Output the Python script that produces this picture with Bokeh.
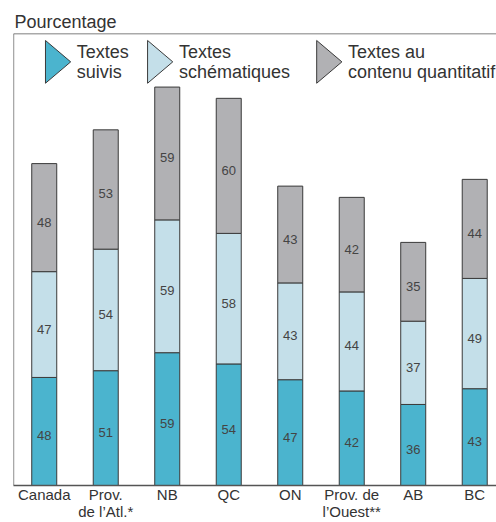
from bokeh.plotting import figure
from bokeh.models import ColumnDataSource, Range1d, FixedTicker, Span
from bokeh.core.properties import value
from bokeh.embed import file_html
from bokeh.resources import INLINE

# ---- data ----
categories = ["Canada", "Prov.\nde l’Atl.*", "NB", "QC", "ON", "Prov. de\nl’Ouest**", "AB", "BC"]
suivis = [48, 51, 59, 54, 47, 42, 36, 43]
schematiques = [47, 54, 59, 58, 43, 44, 37, 49]
quantitatif = [48, 53, 59, 60, 43, 42, 35, 44]
series_names = ["Textes\nsuivis", "Textes\nschématiques", "Textes au\ncontenu quantitatif"]

# ---- styles ----
colors = ["#4BB4CE", "#C4DFE9", "#B1B1B4"]
FONT = "Liberation Sans"
Y_MAX = 200.8
BAR_W = 0.4065

xs = list(range(len(categories)))
src = ColumnDataSource(dict(x=xs, suivis=suivis, schematiques=schematiques, quantitatif=quantitatif))

p = figure(width=496, height=522, output_backend="svg", toolbar_location=None,
           x_range=Range1d(-0.5, 7.354), y_range=Range1d(0, Y_MAX),
           min_border_left=13, min_border_right=0, min_border_top=33, min_border_bottom=0,
           title="Pourcentage")
p.title.text_font = FONT
p.title.text_font_size = "18px"
p.title.text_font_style = "normal"
p.title.text_color = "#333333"
p.title.align = "left"
p.title.standoff = 4
p.title.offset = 1

p.outline_line_color = None
p.grid.visible = False
p.yaxis.visible = False
p.background_fill_color = "white"
p.border_fill_color = "white"

stack_keys = ["suivis", "schematiques", "quantitatif"]
p.vbar_stack(stack_keys, x="x", width=BAR_W, source=src, color=colors,
             line_color="#3a3a3a", line_width=1)

# value labels at segment centres
lab_x, lab_y, lab_t = [], [], []
for i in xs:
    base = 0
    for vals in (suivis, schematiques, quantitatif):
        v = vals[i]
        lab_x.append(i)
        lab_y.append(base + v / 2)
        lab_t.append(str(v))
        base += v
p.text(x=lab_x, y=lab_y, text=lab_t, text_align="center", text_baseline="middle",
       y_offset=4.5, text_font=value(FONT), text_font_size="13px", text_color="#444444")

# x axis
p.xaxis.ticker = FixedTicker(ticks=xs)
p.xaxis.major_label_overrides = {i: c for i, c in zip(xs, categories)}
p.xaxis.major_tick_line_color = None
p.xaxis.minor_tick_line_color = None
p.xaxis.major_tick_out = 0
p.xaxis.major_tick_in = 0
p.xaxis.axis_line_color = "#555555"
p.xaxis.axis_line_width = 1.3
p.xaxis.major_label_text_font = FONT
p.xaxis.major_label_text_font_size = "15px"
p.xaxis.major_label_text_color = "#333333"
p.xaxis.major_label_standoff = 0
p.xaxis.major_label_text_line_height = 1.0

# frame borders (left and top)
p.add_layout(Span(location=-0.5, dimension="height", line_color="#555555", line_width=1.3))
p.add_layout(Span(location=Y_MAX, dimension="width", line_color="#555555", line_width=1.3))

# legend (custom right-pointing triangles + two-line text)
leg_x0 = [0.02, 1.68, 4.43]
leg_w = 0.41
leg_ymid = 188.2
leg_h = 9.5
tri_xs = [[x0, x0 + leg_w, x0] for x0 in leg_x0]
tri_ys = [[leg_ymid + leg_h, leg_ymid, leg_ymid - leg_h] for _ in leg_x0]
p.patches(tri_xs, tri_ys, fill_color=colors, line_color="#3a3a3a", line_width=1)
p.text(x=[x0 + leg_w + 0.1 for x0 in leg_x0], y=[leg_ymid] * 3, text=series_names,
       text_align="left", text_baseline="middle", text_font=value(FONT),
       text_font_size="18px", text_color="#333333", text_line_height=1.0)

open("out.html", "w").write(file_html(p, INLINE))
